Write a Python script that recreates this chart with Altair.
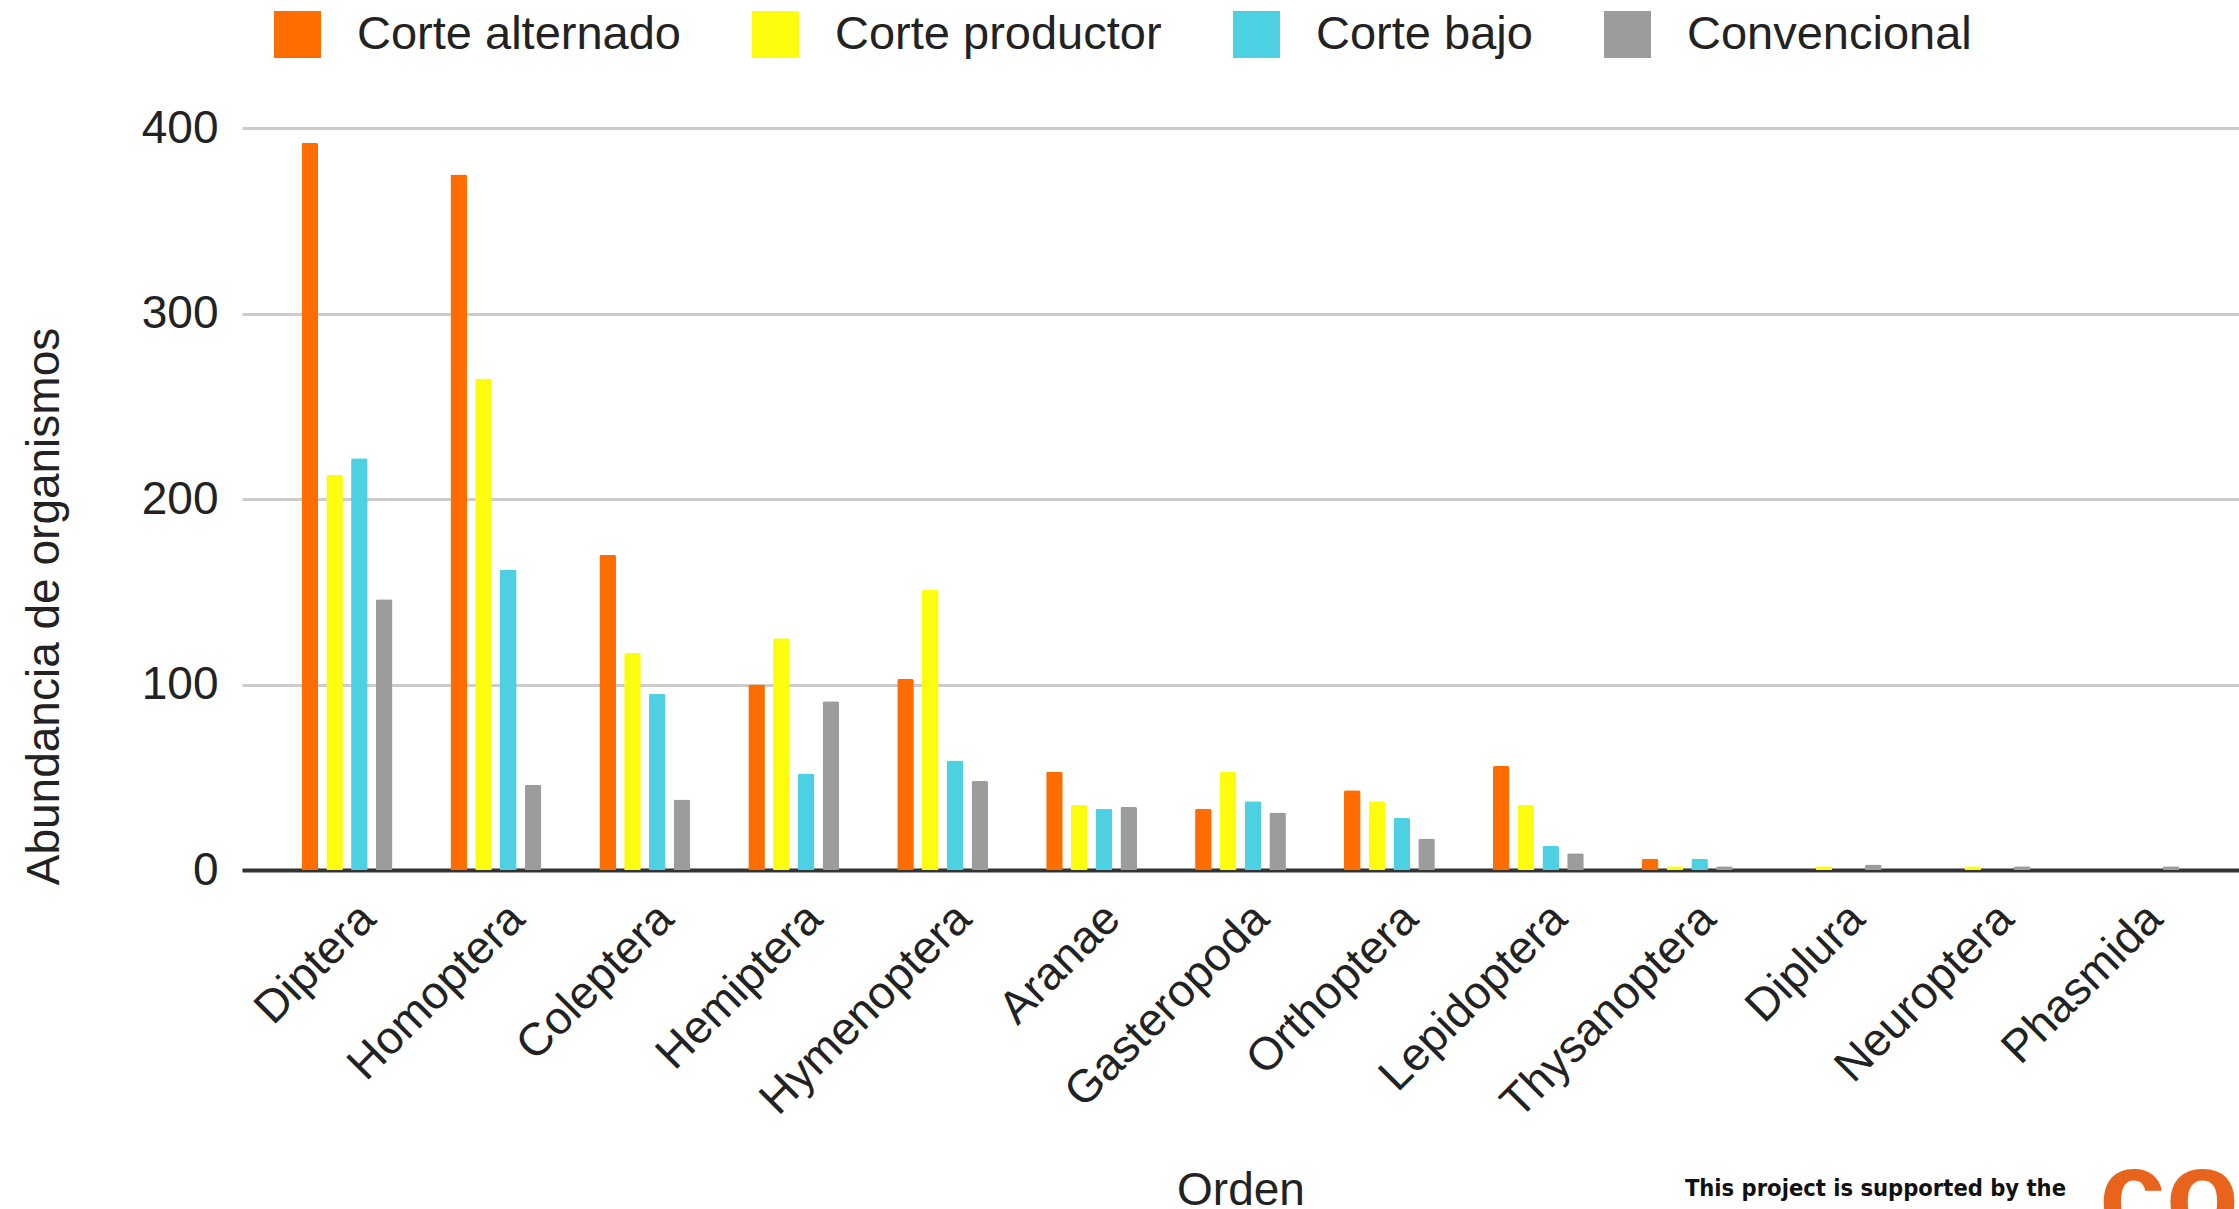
import altair as alt
import pandas as pd

# Orders of organisms along the x axis
ordenes = ["Diptera", "Homoptera", "Coleptera", "Hemiptera", "Hymenoptera", "Aranae",
           "Gasteropoda", "Orthoptera", "Lepidoptera", "Thysanoptera", "Diplura",
           "Neuroptera", "Phasmida"]

# Treatments (one bar per treatment inside each order)
series = ["Corte alternado", "Corte productor", "Corte bajo", "Convencional"]

corte_alternado = [392, 375, 170, 100, 103, 53, 33, 43, 56, 6, 0, 0, 0]
corte_productor = [213, 265, 117, 125, 151, 35, 53, 37, 35, 2, 2, 2, 0]
corte_bajo = [222, 162, 95, 52, 59, 33, 37, 28, 13, 6, 0, 0, 0]
convencional = [146, 46, 38, 91, 48, 34, 31, 17, 9, 2, 3, 2, 2]

colores = ["#ff6d01", "#fcfc0f", "#4dd0e1", "#9c9c9c"]
y_ticks = [0, 100, 200, 300, 400]

support_line1 = "This project is supported by the"
support_line2 = "Open Society Foundations"
logo_text = "co"

rows = []
for name, vals in zip(series, [corte_alternado, corte_productor, corte_bajo, convencional]):
    for orden, v in zip(ordenes, vals):
        rows.append({"Orden": orden, "Serie": name, "Abundancia": v})
df = pd.DataFrame(rows)

FONT = "Liberation Sans, Arial, sans-serif"
NARROW = "DejaVu Sans Condensed, Liberation Sans Narrow, Arial Narrow, sans-serif"
TEXT = "#222222"

bars = alt.Chart(df).mark_bar(cornerRadiusTopLeft=2, cornerRadiusTopRight=2).encode(
    x=alt.X(
        "Orden:N", sort=ordenes,
        scale=alt.Scale(paddingInner=0.39, paddingOuter=0.4),
        axis=alt.Axis(
            title="Orden", labelAngle=-45, labelAlign="right", labelBaseline="middle",
            labelOffset=21, labelPadding=41, ticks=False, tickSize=0, grid=False,
            domainColor="#333333", domainWidth=4,
            labelFontSize=46, labelFont=FONT, labelColor=TEXT, labelLimit=600,
            labelOverlap=False,
            titleFontSize=46, titleFont=FONT, titleFontWeight="normal", titleColor=TEXT,
            titleBaseline="alphabetic", titleY=334,
        ),
    ),
    xOffset=alt.XOffset("Serie:N", sort=series, scale=alt.Scale(paddingInner=0.33)),
    y=alt.Y(
        "Abundancia:Q",
        scale=alt.Scale(domain=[0, 400], nice=False),
        axis=alt.Axis(
            values=y_ticks, title="Abundancia de organismos",
            domain=False, ticks=False, tickSize=0, labelPadding=24,
            labelFontSize=46, labelFont=FONT, labelColor=TEXT,
            gridColor="#cccccc", gridWidth=3,
            titleFontSize=46, titleFont=FONT, titleFontWeight="normal", titleColor=TEXT,
            titleAngle=270, titleAlign="center", titleBaseline="middle",
            titleX=-198, titleY=478,
        ),
    ),
    color=alt.Color(
        "Serie:N", sort=series,
        scale=alt.Scale(domain=series, range=colores),
        legend=alt.Legend(
            title=None, orient="none", legendX=32, legendY=-117, direction="horizontal",
            symbolType="square", symbolSize=2209, symbolStrokeWidth=0, symbolOpacity=1,
            labelFontSize=47, labelFont=FONT, labelColor=TEXT, labelOffset=36,
            columnPadding=71, padding=0, labelLimit=600,
        ),
    ),
)

note1 = alt.Chart(pd.DataFrame({"t": [support_line1]})).mark_text(
    font=NARROW, fontSize=23.5, fontWeight="bold", color="#111111",
    align="right", baseline="alphabetic",
).encode(text="t:N", x=alt.value(1824), y=alt.value(1068))

note2 = alt.Chart(pd.DataFrame({"t": [support_line2]})).mark_text(
    font=NARROW, fontSize=23.5, fontWeight="bold", color="#111111",
    align="right", baseline="alphabetic",
).encode(text="t:N", x=alt.value(1824), y=alt.value(1099))

logo = alt.Chart(pd.DataFrame({"t": [logo_text]})).mark_text(
    font=FONT, fontSize=120, fontWeight="bold", color="#e8641c",
    align="left", baseline="alphabetic",
).encode(text="t:N", x=alt.value(1857), y=alt.value(1106))

chart = alt.layer(bars, note1, note2, logo).properties(
    width=1997, height=742,
    autosize="none",
    padding={"left": 242, "top": 128, "right": 0, "bottom": 339},
    background="white",
).configure_view(stroke=None)

chart.save("out.html", embed_options={"renderer": "svg", "actions": False})
